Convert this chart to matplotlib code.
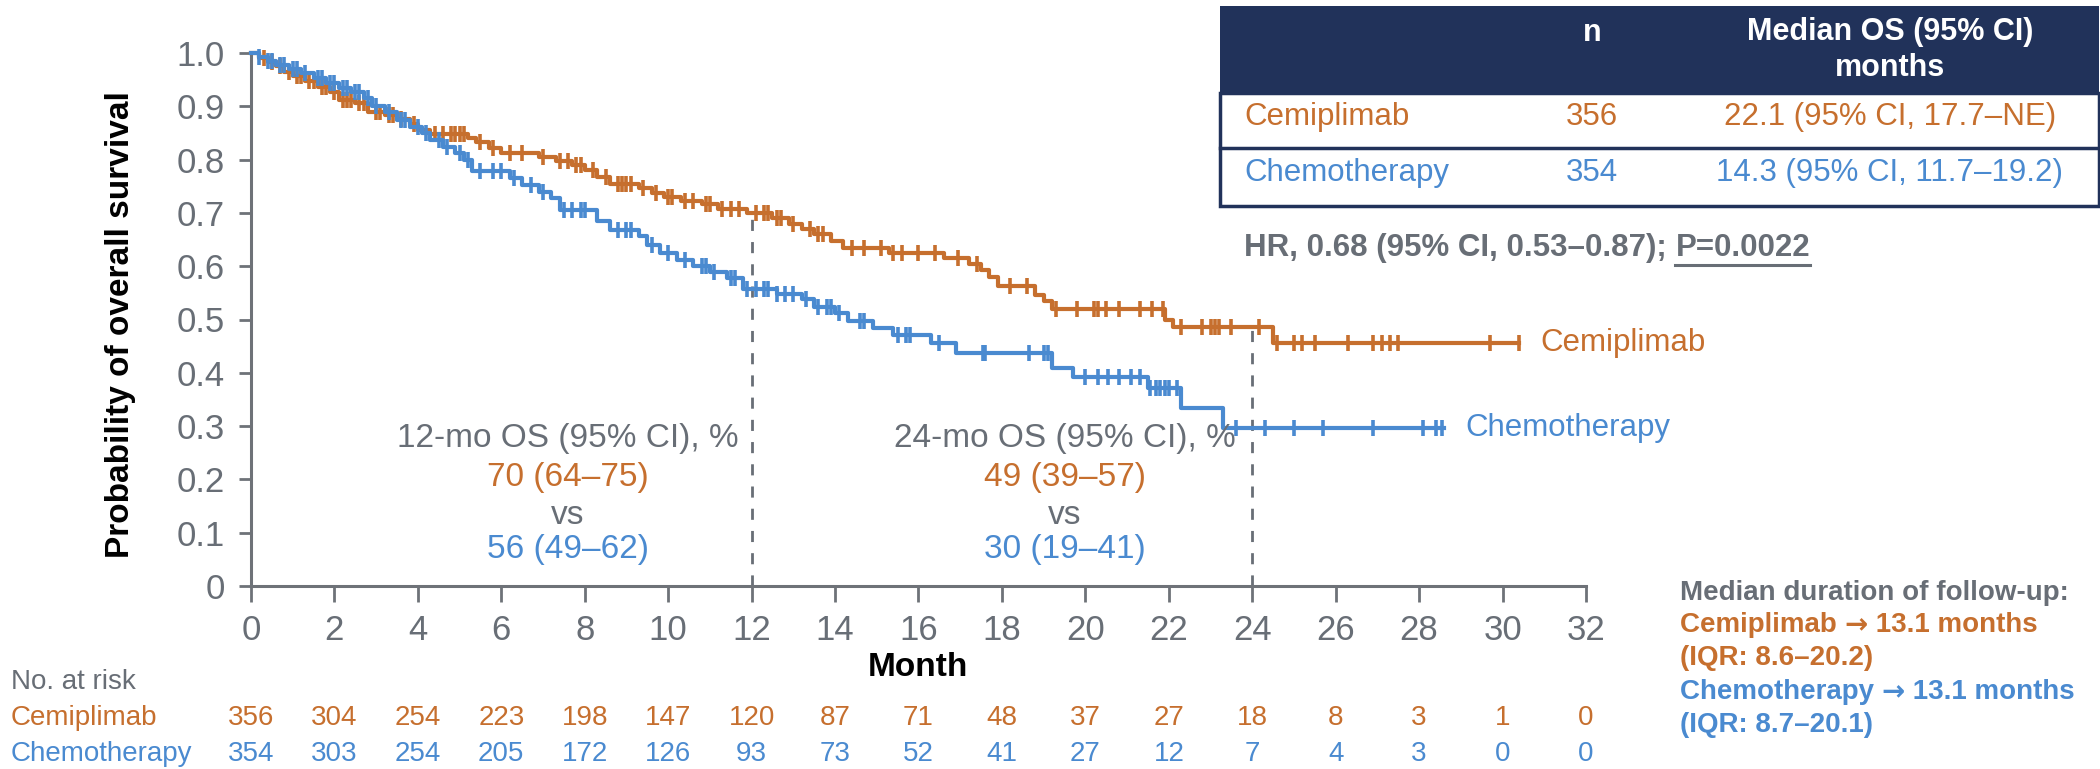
import numpy as np
import matplotlib.pyplot as plt
from matplotlib.patches import Rectangle
from matplotlib.lines import Line2D
from matplotlib.transforms import blended_transform_factory

plt.rcParams['font.family'] = ['Liberation Sans', 'DejaVu Sans']

# colours
ORANGE = '#c66f2e'
BLUE = '#4a8ad0'
GRAY = '#686e76'
NAVY = '#21325a'

# Kaplan-Meier steps (month, survival after the drop)
cemi_t = [0, 0.2, 0.4, 0.6, 0.8, 1.0, 1.3, 1.6, 1.9, 2.1, 2.5, 2.8, 3.2, 3.5, 3.8, 4.0, 4.3,
          5.2, 5.4, 5.7, 6.0, 6.9, 7.3, 7.7, 8.0, 8.3, 8.6, 9.3, 9.6, 9.9, 10.3, 10.8,
          11.2, 11.9, 12.5, 12.9, 13.2, 13.5, 13.9, 14.2, 15.3, 16.6, 17.2, 17.5, 17.7,
          17.9, 18.8, 19.0, 19.2, 21.9, 22.1, 24.5, 30.4]
cemi_s = [1.0, 0.99, 0.983, 0.975, 0.965, 0.957, 0.947, 0.936, 0.926, 0.912, 0.906, 0.89,
          0.884, 0.876, 0.866, 0.855, 0.848, 0.84, 0.833, 0.822, 0.812, 0.805, 0.798, 0.79,
          0.78, 0.768, 0.755, 0.747, 0.738, 0.73, 0.722, 0.716, 0.708, 0.70, 0.69, 0.68,
          0.67, 0.66, 0.648, 0.635, 0.625, 0.615, 0.605, 0.592, 0.58, 0.562, 0.546, 0.535,
          0.52, 0.50, 0.485, 0.456, 0.456]
cemi_cens = [0.3, 0.5, 0.7, 0.9, 1.1, 1.2, 1.4, 1.5, 1.7, 1.8, 2.0, 2.2, 2.3, 2.4, 2.6, 2.7,
             3.0, 3.1, 3.3, 3.4, 3.6, 3.9, 4.4, 4.6, 4.8, 4.9, 5.0, 5.1, 5.5, 5.8, 6.2, 6.5,
             7.0, 7.4, 7.6, 7.8, 7.9, 8.2, 8.5, 8.8, 8.9, 9.0, 9.1, 9.4, 9.7, 10.0, 10.1,
             10.4, 10.6, 10.9, 11.0, 11.3, 11.5, 11.7, 12.1, 12.3, 12.4, 12.6, 12.7, 13.0,
             13.4, 13.6, 13.7, 14.4, 14.7, 15.1, 15.4, 15.6, 16.0, 16.4, 16.95, 17.4, 18.2,
             18.6, 19.3, 19.8, 20.2, 20.3, 20.5, 20.8, 21.3, 21.6, 21.85, 22.3, 22.8, 23.0,
             23.1, 23.2, 23.5, 24.15, 24.6, 25.0, 25.2, 25.5, 26.3, 26.9, 27.1, 27.3, 27.5,
             29.7, 30.4]

chemo_t = [0, 0.2, 0.4, 0.6, 0.9, 1.2, 1.5, 1.8, 2.1, 2.4, 2.7, 2.9, 3.2, 3.5, 3.8, 4.1,
           4.3, 4.6, 4.9, 5.1, 5.3, 6.2, 6.5, 6.9, 7.2, 7.4, 8.3, 8.6, 9.3, 9.5, 9.8, 10.2,
           10.6, 11.0, 11.4, 11.8, 12.6, 13.2, 13.5, 14.0, 14.3, 14.9, 15.4, 16.3, 16.9,
           19.2, 19.7, 21.5, 22.3, 23.3, 28.6]
chemo_s = [1.0, 0.993, 0.985, 0.978, 0.97, 0.962, 0.953, 0.944, 0.935, 0.926, 0.915, 0.9,
           0.89, 0.875, 0.862, 0.85, 0.836, 0.824, 0.812, 0.8, 0.778, 0.765, 0.752, 0.74,
           0.728, 0.705, 0.685, 0.668, 0.656, 0.64, 0.625, 0.612, 0.6, 0.59, 0.578, 0.558,
           0.548, 0.538, 0.524, 0.512, 0.497, 0.484, 0.471, 0.456, 0.437, 0.409, 0.392,
           0.371, 0.334, 0.296, 0.296]
chemo_cens = [0.2, 0.4, 0.5, 0.7, 0.8, 1.0, 1.1, 1.3, 1.6, 1.7, 1.9, 2.0, 2.2, 2.3, 2.5,
              2.6, 2.8, 3.0, 3.3, 3.6, 3.7, 4.0, 4.2, 4.5, 4.7, 5.0, 5.2, 5.5, 5.8, 6.0, 6.3,
              6.7, 7.0, 7.5, 7.7, 7.9, 8.0, 8.8, 9.0, 9.1, 9.6, 10.0, 10.4, 10.8, 10.9, 11.1,
              11.5, 11.6, 11.9, 12.1, 12.3, 12.4, 12.6, 12.8, 13.0, 13.3, 13.6, 13.8, 13.9,
              14.1, 14.6, 14.7, 15.5, 15.7, 15.8, 16.5, 17.55, 17.6, 18.65, 19.0, 19.1, 20.0,
              20.3, 20.55, 20.8, 21.1, 21.3, 21.55, 21.7, 21.8, 21.9, 22.0, 22.2, 23.6, 24.3,
              25.0, 25.7, 26.9, 28.1, 28.4, 28.55]

# number at risk
risk_months = list(range(0, 33, 2))
cemi_risk = [356, 304, 254, 223, 198, 147, 120, 87, 71, 48, 37, 27, 18, 8, 3, 1, 0]
chemo_risk = [354, 303, 254, 205, 172, 126, 93, 73, 52, 41, 27, 12, 7, 4, 3, 0, 0]

W, H = 2100, 769
fig = plt.figure(figsize=(W / 100, H / 100), dpi=100)
ax = fig.add_axes([251 / W, 1 - 586 / H, (1586 - 251) / W, (586 - 53) / H])


def surv_at(t, s, x):
    idx = np.searchsorted(t, x, side='right') - 1
    return np.asarray(s)[idx]


for t, s, cens, col in [(cemi_t, cemi_s, cemi_cens, ORANGE),
                        (chemo_t, chemo_s, chemo_cens, BLUE)]:
    ax.step(t, s, where='post', color=col, lw=3.0, clip_on=False, zorder=3)
    ax.plot(cens, surv_at(t, s, cens), ls='none', marker='|', ms=12, mew=2.6,
            color=col, clip_on=False, zorder=3)

# landmark dashed lines
for m in (12, 24):
    ax.plot([m, m], [0, surv_at(cemi_t, cemi_s, m)], color=GRAY, lw=2.0,
            dashes=(4, 4), zorder=2)

ax.set_xlim(0, 32)
ax.set_ylim(0, 1)
for side in ('top', 'right'):
    ax.spines[side].set_visible(False)
for side in ('left', 'bottom'):
    ax.spines[side].set_color('#6e7278')
    ax.spines[side].set_linewidth(2.2)
ax.set_xticks(risk_months)
ax.set_yticks(np.round(np.arange(0, 1.01, 0.1), 1))
ax.set_yticklabels(['0'] + [f'{v:.1f}' for v in np.arange(0.1, 1.01, 0.1)])
ax.tick_params(axis='x', length=11.5, width=2, pad=9, labelsize=25,
               color='#6e7278', labelcolor=GRAY)
ax.tick_params(axis='y', length=9, width=2, pad=10, labelsize=25,
               color='#6e7278', labelcolor=GRAY)


def ftext(x, y, s, **kw):
    return fig.text(x / W, 1 - y / H, s, **kw)


ftext(120, 325, 'Probability of overall survival', rotation=90, ha='center',
      va='center', fontsize=24, fontweight='bold', color='black')
ftext(918, 667, 'Month', ha='center', va='center', fontsize=24,
      fontweight='bold', color='black')

# landmark text blocks
for xm, cval, chval, title in [(7.6, '70 (64–75)', '56 (49–62)', '12-mo OS (95% CI), %'),
                               (19.5, '49 (39–57)', '30 (19–41)', '24-mo OS (95% CI), %')]:
    ax.text(xm, 0.276, title, ha='center', va='center', fontsize=24, color=GRAY)
    ax.text(xm, 0.203, cval, ha='center', va='center', fontsize=24, color=ORANGE)
    ax.text(xm, 0.133, 'vs', ha='center', va='center', fontsize=24, color=GRAY)
    ax.text(xm, 0.068, chval, ha='center', va='center', fontsize=24, color=BLUE)

# curve labels
ax.text(30.9, surv_at(cemi_t, cemi_s, 30), 'Cemiplimab', ha='left', va='center',
        fontsize=22.5, color=ORANGE)
ax.text(29.1, surv_at(chemo_t, chemo_s, 28), 'Chemotherapy', ha='left', va='center',
        fontsize=22.5, color=BLUE)

# number at risk table
tr = blended_transform_factory(ax.transData, fig.transFigure)
ftext(11, 682, 'No. at risk', ha='left', va='center', fontsize=20, color=GRAY)
ftext(11, 718, 'Cemiplimab', ha='left', va='center', fontsize=20, color=ORANGE)
ftext(11, 754, 'Chemotherapy', ha='left', va='center', fontsize=20, color=BLUE)
for m, a, b in zip(risk_months, cemi_risk, chemo_risk):
    ax.text(m, 1 - 718 / H, str(a), transform=tr, ha='center', va='center',
            fontsize=20, color=ORANGE)
    ax.text(m, 1 - 754 / H, str(b), transform=tr, ha='center', va='center',
            fontsize=20, color=BLUE)

# median OS table
def frect(x0, y0, x1, y1, **kw):
    fig.add_artist(Rectangle((x0 / W, 1 - y1 / H), (x1 - x0) / W, (y1 - y0) / H,
                             transform=fig.transFigure, **kw))


frect(1220, 6, 2099, 93, facecolor=NAVY, edgecolor='none')
frect(1220, 93, 2099, 206, facecolor='white', edgecolor=NAVY, lw=2.5)
fig.add_artist(Line2D([1220 / W, 2099 / W], [1 - 148 / H, 1 - 148 / H],
                      transform=fig.transFigure, color=NAVY, lw=2.5))
ftext(1592, 33, 'n', ha='center', va='center', fontsize=22, fontweight='bold',
      color='white')
ftext(1890, 32, 'Median OS (95% CI)', ha='center', va='center', fontsize=22,
      fontweight='bold', color='white')
ftext(1890, 68, 'months', ha='center', va='center', fontsize=22,
      fontweight='bold', color='white')
for y, name, n, med, col in [(117, 'Cemiplimab', '356', '22.1 (95% CI, 17.7–NE)', ORANGE),
                             (173, 'Chemotherapy', '354', '14.3 (95% CI, 11.7–19.2)', BLUE)]:
    ftext(1244, y, name, ha='left', va='center', fontsize=22.5, color=col)
    ftext(1592, y, n, ha='center', va='center', fontsize=22.5, color=col)
    ftext(1890, y, med, ha='center', va='center', fontsize=22.5, color=col)

renderer = fig.canvas.get_renderer()


def chain(x, y, parts, **kw):
    # draw text pieces one after another on a line, return artists
    out = []
    for s, extra in parts:
        t = fig.text(x / W, 1 - y / H, s, ha='left', va='center', **kw, **extra)
        x = t.get_window_extent(renderer).x1
        out.append(t)
    return out


# hazard ratio line with underlined P value
hr = chain(1244, 248, [('HR, 0.68 (95% CI, 0.53–0.87); ', {}), ('P=0.0022', {})],
           fontsize=22.5, fontweight='bold', color=GRAY)
pb = hr[1].get_window_extent(renderer)
fig.add_artist(Line2D([pb.x0 / W, pb.x1 / W], [1 - 265 / H, 1 - 265 / H],
                      transform=fig.transFigure, color=GRAY, lw=2.2))

# follow-up notes
arrow = {'family': 'DejaVu Sans'}
ftext(1680, 593, 'Median duration of follow-up:', ha='left', va='center',
      fontsize=20, fontweight='bold', color=GRAY)
chain(1680, 625, [('Cemiplimab ', {}), ('→', arrow), (' 13.1 months', {})],
      fontsize=20, fontweight='bold', color=ORANGE)
ftext(1680, 658, '(IQR: 8.6–20.2)', ha='left', va='center',
      fontsize=20, fontweight='bold', color=ORANGE)
chain(1680, 692, [('Chemotherapy ', {}), ('→', arrow), (' 13.1 months', {})],
      fontsize=20, fontweight='bold', color=BLUE)
ftext(1680, 725, '(IQR: 8.7–20.1)', ha='left', va='center',
      fontsize=20, fontweight='bold', color=BLUE)

fig.savefig('out.png', dpi=100)
